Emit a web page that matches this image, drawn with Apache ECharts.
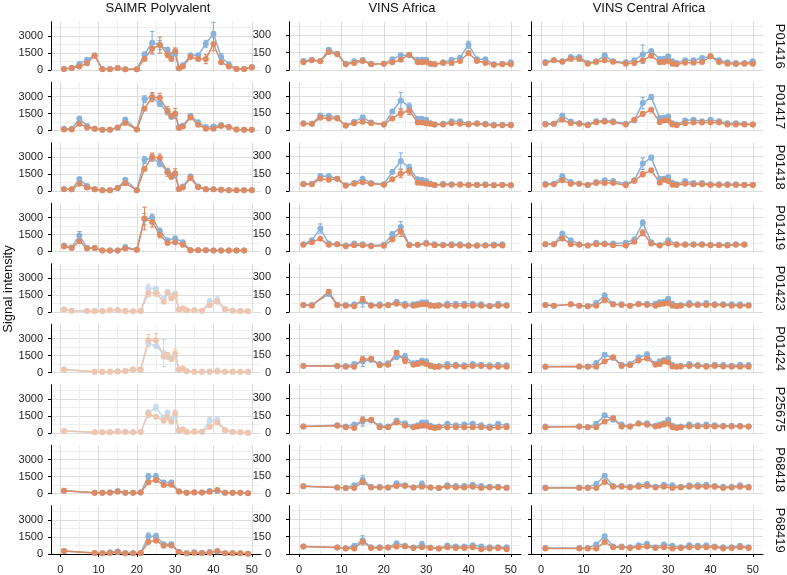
<!DOCTYPE html>
<html><head><meta charset="utf-8">
<script src="https://cdn.jsdelivr.net/npm/echarts@6/dist/echarts.min.js"></script>
<style>html,body{margin:0;padding:0;background:#fff}#c{width:787px;height:575px}</style>
</head><body><div id="c"></div>
<script>
// ---------- labels / ticks ----------
const columns = ['SAIMR Polyvalent', 'VINS Africa', 'VINS Central Africa'];
const proteins = ['P01416','P01417','P01418','P01419','P01423','P01424','P25675','P68418','P68419'];
const yAxisTitle = 'Signal intensity';
const xTickLabels = [0,10,20,30,40,50];
const xGridValues = [0,5,10,15,20,25,30,35,40,45,50];
const yTicksSAIMR = [0,1500,3000];
const yTicksVINS = [0,150,300];

// ---------- x positions per protein ----------
const x_P01416 = [1,3,5,7,9,11,13,15,17,20,22,24,26,28,29,30,31,32,34,36,38,40,42,44,46,48,50];
const x_P01417 = [1,3,5,7,9,11,13,15,17,20,22,24,26,28,29,30,31,32,34,36,38,40,42,44,46,48,50];
const x_P01418 = [1,3,5,7,9,11,13,15,17,20,22,24,26,28,29,30,31,32,34,36,38,40,42,44,46,48,50];
const x_P01419 = [1,3,5,7,9,11,13,15,17,20,22,24,26,28,30,32,34,36,38,40,42,44,46,48];
const x_P01423 = [1,3,7,9,11,13,15,17,19,21,23,25,27,28,29,30,31,32,33,35,37,39,41,43,45,47,49];
const x_P01424 = [1,9,11,13,15,17,19,21,23,25,27,28,29,30,31,32,33,35,37,39,41,43,45,47,49];
const x_P25675 = [1,9,11,13,15,17,19,21,23,25,27,28,29,30,31,32,33,35,37,39,41,43,45,47,49];
const x_P68418 = [1,9,11,13,15,17,19,21,23,25,27,29,31,33,35,37,39,41,43,45,47,49];
const x_P68419 = [1,9,11,13,15,17,19,21,23,25,27,29,31,33,35,37,39,41,43,45,47,49];

// ---------- SAIMR Polyvalent (blue = A, orange = B); errors as [x, halfwidth] ----------
const sa_P01416_A = [90,180,540,900,1290,90,90,180,60,60,1400,2400,2200,1800,1350,1440,150,420,1290,1290,2310,3200,1140,510,90,90,270];
const sa_P01416_B = [90,180,300,600,1250,60,60,180,60,60,960,1900,2200,1400,960,1650,150,300,1140,960,960,2300,690,300,90,90,210];
const sa_P01416_Aerr = [[24,1000],[26,400],[38,300],[40,1000],[42,300]];
const sa_P01416_Berr = [[24,400],[26,700],[28,300],[30,300],[38,400],[40,600]];
const sa_P01417_A = [150,150,1050,390,150,60,60,240,960,90,2760,2940,2370,1620,1200,1380,300,420,1290,720,300,360,480,300,90,60,60];
const sa_P01417_B = [90,90,600,270,150,60,60,270,660,90,1920,2940,2880,1740,1290,1500,210,360,1140,510,150,150,390,300,90,60,60];
const sa_P01417_Aerr = [[22,300],[24,300],[26,250],[28,200]];
const sa_P01417_Berr = [[24,400],[26,400],[28,350],[30,450]];
const sa_P01418_A = [180,150,1050,450,150,60,60,270,990,60,2730,2940,2400,1740,1380,1440,180,390,1290,390,150,150,120,60,60,60,60];
const sa_P01418_B = [150,150,630,300,150,60,60,270,690,60,1950,3000,2910,1650,1230,1560,180,300,1140,330,150,150,120,60,60,60,60];
const sa_P01418_Aerr = [[22,300],[24,300],[26,250]];
const sa_P01418_Berr = [[24,350],[26,350],[28,350],[30,400]];
const sa_P01419_A = [540,360,1410,330,300,90,90,90,390,150,2850,3000,1800,990,1170,810,120,120,120,90,90,90,90,90];
const sa_P01419_B = [450,300,900,270,300,90,90,90,270,150,2910,2610,1500,750,810,600,120,120,120,90,90,90,90,90];
const sa_P01419_Aerr = [[5,350],[22,500],[24,300],[26,250]];
const sa_P01419_Berr = [[22,1000],[24,450],[26,300]];
const sa_P01423_A = [210,120,90,90,90,150,150,90,60,90,2100,2040,1200,1800,1350,1650,210,300,150,150,120,900,1050,240,120,90,60];
const sa_P01423_B = [210,120,90,90,90,150,150,90,60,90,1650,1650,900,1650,1200,1500,210,300,150,150,120,600,900,240,120,90,60];
const sa_P01423_Aerr = [[23,350],[29,300],[39,300],[41,300]];
const sa_P01423_Berr = [[23,300],[25,250],[30,300]];
const sa_P01424_A = [270,60,60,90,120,150,270,270,2610,2310,1710,1350,1260,1470,270,360,120,60,60,90,180,60,60,60,60];
const sa_P01424_B = [270,60,60,60,90,120,270,270,2850,2850,1410,1560,1170,1650,270,360,120,60,60,60,90,60,60,60,60];
const sa_P01424_Aerr = [[23,300],[27,1200]];
const sa_P01424_Berr = [[23,500],[25,600],[30,400]];
const sa_P25675_A = [180,60,60,90,150,120,60,90,1740,2250,1350,1800,1140,1500,210,300,90,150,120,1080,1140,240,90,60,30];
const sa_P25675_B = [180,60,60,60,120,90,60,90,1680,1440,1080,1380,990,1710,210,300,90,120,120,540,930,240,90,60,30];
const sa_P25675_Aerr = [[23,300],[25,250],[39,300],[41,300]];
const sa_P25675_Berr = [[23,300],[30,300]];
const sa_P68418_A = [240,60,60,120,210,60,60,90,1500,1500,960,960,180,60,120,90,210,210,60,60,60,30];
const sa_P68418_B = [240,60,60,60,150,60,60,90,990,1200,750,780,180,60,90,90,150,300,60,60,60,30];
const sa_P68418_Aerr = [[23,250],[25,250],[27,150],[29,150]];
const sa_P68418_Berr = [[23,150],[25,200]];
const sa_P68419_A = [270,90,60,150,210,60,60,90,1560,1560,870,870,180,60,150,90,180,210,60,60,60,30];
const sa_P68419_B = [270,90,60,90,150,60,60,90,1050,1200,720,750,180,60,90,90,120,270,60,60,60,30];
const sa_P68419_Aerr = [[23,300],[25,250],[27,150],[29,150]];
const sa_P68419_Berr = [[23,150],[25,200]];

// ---------- VINS Africa ----------
const va_P01416_A = [78,89,78,176,141,55,75,84,55,55,92,127,127,89,89,89,55,49,66,89,107,219,92,92,49,55,66];
const va_P01416_B = [66,84,75,156,136,49,61,78,49,55,66,89,133,66,66,69,55,49,61,61,78,147,78,61,46,49,49];
const va_P01416_Aerr = [[7,10],[15,20],[40,30]];
const va_P01416_Berr = [[7,15],[26,12]];
const va_P01417_A = [63,58,130,127,110,43,75,115,69,52,164,260,208,101,101,92,63,52,58,81,81,58,63,58,49,49,49];
const va_P01417_B = [58,58,110,104,104,43,63,75,63,52,104,150,173,69,69,63,58,52,52,63,58,52,58,52,43,46,46];
const va_P01417_Aerr = [[22,15],[24,70],[26,30]];
const va_P01417_Berr = [[24,35],[26,35]];
const va_P01418_A = [63,63,130,127,107,49,69,107,69,58,165,260,199,101,98,87,63,49,63,58,58,55,55,58,49,55,49];
const va_P01418_B = [58,58,107,98,107,46,63,75,63,55,101,150,173,72,69,63,58,52,55,55,55,52,52,52,49,52,49];
const va_P01418_Aerr = [[22,15],[24,70],[26,30]];
const va_P01418_Berr = [[24,35],[26,35]];
const va_P01419_A = [63,98,199,69,63,52,69,63,52,58,150,213,58,58,75,63,58,63,63,55,55,55,61,63];
const va_P01419_B = [58,81,110,58,63,46,55,55,46,49,104,176,55,58,66,55,55,55,52,49,49,52,52,52];
const va_P01419_Aerr = [[5,40],[22,20],[24,45]];
const va_P01419_Berr = [[22,15],[24,45]];
const va_P01423_A = [61,61,155,61,61,66,89,61,66,61,89,72,66,72,84,84,61,55,61,72,72,72,72,66,55,72,61];
const va_P01423_B = [61,55,175,61,55,49,107,55,55,61,72,55,55,61,66,66,55,55,55,55,55,55,55,55,49,55,55];
const va_P01423_Aerr = [[15,45]];
const va_P01423_Berr = [[7,15],[15,25]];
const va_P01424_A = [59,56,56,74,97,109,74,79,132,138,79,85,103,97,62,50,56,74,68,62,74,68,62,68,62];
const va_P01424_B = [56,56,50,50,115,118,62,68,171,103,68,74,85,74,56,50,50,50,56,50,56,56,50,50,50];
const va_P01424_Aerr = [[15,45],[25,25]];
const va_P01424_Berr = [[17,15],[23,20],[25,25]];
const va_P25675_A = [56,68,56,74,100,109,62,56,109,85,56,68,91,91,62,50,56,79,68,74,79,68,56,79,62];
const va_P25675_B = [56,62,50,44,115,115,50,50,91,62,50,56,62,62,50,44,50,50,50,50,50,50,44,50,50];
const va_P25675_Aerr = [[15,40]];
const va_P25675_Berr = [[17,15]];
const va_P68418_A = [62,53,47,71,118,59,59,53,88,71,53,82,53,47,71,65,65,76,65,59,59,53];
const va_P68418_B = [62,53,47,47,100,53,53,53,65,65,53,59,53,47,59,53,53,59,47,53,53,47];
const va_P68418_Aerr = [[15,40],[29,25]];
const va_P68418_Berr = [[15,15]];
const va_P68419_A = [65,56,50,71,118,59,59,56,94,71,56,82,56,47,74,65,65,76,65,59,59,59];
const va_P68419_B = [65,56,47,47,106,53,53,56,65,65,53,59,53,47,59,53,53,59,41,47,53,41];
const va_P68419_Aerr = [[15,40],[29,25]];
const va_P68419_Berr = [[15,15]];

// ---------- VINS Central Africa ----------
const vca_P01416_A = [69,84,75,113,113,61,75,127,75,66,84,136,165,95,98,118,75,61,84,84,104,118,84,66,61,61,75];
const vca_P01416_B = [61,84,72,95,95,55,69,84,72,55,61,84,124,66,69,78,55,49,63,63,69,118,69,55,52,55,55];
const vca_P01416_Aerr = [[15,15],[24,80]];
const vca_P01416_Berr = [[24,15]];
const vca_P01417_A = [58,58,130,78,63,52,81,87,81,58,87,237,289,110,110,121,63,52,87,92,81,92,81,63,63,58,52];
const vca_P01417_B = [52,58,92,63,58,46,72,75,72,52,92,144,179,72,87,87,52,46,63,69,69,69,69,52,52,52,52];
const vca_P01417_Aerr = [[24,50],[26,20]];
const vca_P01417_Berr = [[24,20]];
const vca_P01418_A = [63,63,127,78,63,55,78,92,87,63,92,237,289,107,107,121,69,58,87,69,69,58,58,58,58,55,55];
const vca_P01418_B = [55,58,92,63,63,52,69,69,69,49,87,144,179,72,98,87,55,52,63,58,58,52,52,52,52,52,52];
const vca_P01418_Aerr = [[24,50],[26,20]];
const vca_P01418_Berr = [[24,20]];
const vca_P01419_A = [63,63,156,98,63,52,75,69,69,75,104,248,81,55,98,63,63,63,63,58,58,58,63,63];
const vca_P01419_B = [63,63,113,63,58,52,63,63,55,52,84,162,69,52,69,58,58,58,58,55,55,52,58,58];
const vca_P01419_Aerr = [[24,25]];
const vca_P01419_Berr = [[24,25]];
const vca_P01423_A = [61,55,66,55,49,78,144,66,66,55,72,72,72,84,89,115,72,55,61,78,66,78,66,66,66,66,61];
const vca_P01423_B = [61,55,66,55,49,55,101,66,61,55,66,61,55,66,72,78,55,49,55,61,61,61,61,61,55,55,55];
const vca_P01423_Aerr = [[15,15]];
const vca_P01423_Berr = [];
const vca_P01424_A = [53,53,53,82,153,126,68,74,132,153,74,97,109,124,68,53,59,74,65,59,68,65,59,68,65];
const vca_P01424_B = [50,53,50,50,97,132,56,62,103,121,68,74,97,88,53,50,53,56,56,50,56,53,50,50,50];
const vca_P01424_Aerr = [[15,15],[25,25]];
const vca_P01424_Berr = [[17,10]];
const vca_P25675_A = [56,56,50,79,153,115,74,56,85,85,62,74,85,115,62,50,56,74,68,74,68,62,62,62,56];
const vca_P25675_B = [50,56,50,50,100,129,56,56,79,71,56,62,74,79,50,44,50,56,56,56,56,56,56,56,56];
const vca_P25675_Aerr = [[15,15]];
const vca_P25675_Berr = [[17,10]];
const vca_P68418_A = [53,53,53,82,153,65,65,59,71,82,59,76,71,59,71,71,76,65,59,59,71,59];
const vca_P68418_B = [47,47,47,47,100,59,59,53,59,65,53,59,47,53,59,59,59,59,47,53,59,53];
const vca_P68418_Aerr = [[15,15]];
const vca_P68418_Berr = [];
const vca_P68419_A = [53,53,53,82,153,65,65,59,76,88,59,82,71,59,76,71,76,65,59,59,71,59];
const vca_P68419_B = [47,47,47,47,103,59,59,53,59,65,53,59,47,53,59,59,59,59,47,53,59,53];
const vca_P68419_Aerr = [[15,15]];
const vca_P68419_Berr = [];

// ---------- assemble tables ----------
const rowX = [x_P01416,x_P01417,x_P01418,x_P01419,x_P01423,x_P01424,x_P25675,x_P68418,x_P68419];
const panelTable = [
  [[sa_P01416_A,sa_P01416_B,sa_P01416_Aerr,sa_P01416_Berr],[va_P01416_A,va_P01416_B,va_P01416_Aerr,va_P01416_Berr],[vca_P01416_A,vca_P01416_B,vca_P01416_Aerr,vca_P01416_Berr]],
  [[sa_P01417_A,sa_P01417_B,sa_P01417_Aerr,sa_P01417_Berr],[va_P01417_A,va_P01417_B,va_P01417_Aerr,va_P01417_Berr],[vca_P01417_A,vca_P01417_B,vca_P01417_Aerr,vca_P01417_Berr]],
  [[sa_P01418_A,sa_P01418_B,sa_P01418_Aerr,sa_P01418_Berr],[va_P01418_A,va_P01418_B,va_P01418_Aerr,va_P01418_Berr],[vca_P01418_A,vca_P01418_B,vca_P01418_Aerr,vca_P01418_Berr]],
  [[sa_P01419_A,sa_P01419_B,sa_P01419_Aerr,sa_P01419_Berr],[va_P01419_A,va_P01419_B,va_P01419_Aerr,va_P01419_Berr],[vca_P01419_A,vca_P01419_B,vca_P01419_Aerr,vca_P01419_Berr]],
  [[sa_P01423_A,sa_P01423_B,sa_P01423_Aerr,sa_P01423_Berr],[va_P01423_A,va_P01423_B,va_P01423_Aerr,va_P01423_Berr],[vca_P01423_A,vca_P01423_B,vca_P01423_Aerr,vca_P01423_Berr]],
  [[sa_P01424_A,sa_P01424_B,sa_P01424_Aerr,sa_P01424_Berr],[va_P01424_A,va_P01424_B,va_P01424_Aerr,va_P01424_Berr],[vca_P01424_A,vca_P01424_B,vca_P01424_Aerr,vca_P01424_Berr]],
  [[sa_P25675_A,sa_P25675_B,sa_P25675_Aerr,sa_P25675_Berr],[va_P25675_A,va_P25675_B,va_P25675_Aerr,va_P25675_Berr],[vca_P25675_A,vca_P25675_B,vca_P25675_Aerr,vca_P25675_Berr]],
  [[sa_P68418_A,sa_P68418_B,sa_P68418_Aerr,sa_P68418_Berr],[va_P68418_A,va_P68418_B,va_P68418_Aerr,va_P68418_Berr],[vca_P68418_A,vca_P68418_B,vca_P68418_Aerr,vca_P68418_Berr]],
  [[sa_P68419_A,sa_P68419_B,sa_P68419_Aerr,sa_P68419_Berr],[va_P68419_A,va_P68419_B,va_P68419_Aerr,va_P68419_Berr],[vca_P68419_A,vca_P68419_B,vca_P68419_Aerr,vca_P68419_Berr]]
];

// ---------- styling / layout ----------
const FONT = '"Liberation Sans", Arial, Helvetica, sans-serif';
const BLUE = '#88b2da', ORANGE = '#df8a61';
const BLUE_FADED = '#c8dbee', ORANGE_FADED = '#f0c5ae';
const fadedPanels = [[4,0],[5,0],[6,0]];
const GRID_MAJOR = '#dcdcdc', GRID_MINOR = '#efefef';
const colLeft = [51, 289, 531];
const colWidth = [210, 232, 232];
const labelMargin = [8, 18, 8];
const rowTop0 = 21.7, rowStep = 60.5, panelH = 48.3;
const xMin = -2.4, xMax = 52.4;
const yMaxCol = [4260, 418, 418];
const yIntervalCol = [1500, 150, 150];
const yTickCol = [yTicksSAIMR, yTicksVINS, yTicksVINS];
const titleX = [158, 402, 649];
const plainNum = v => String(Math.round(v));

function errRender(color) {
  return function (params, api) {
    const x = api.value(0), y = api.value(1), e = api.value(2);
    const top = api.coord([x, y + e]);
    const bot = api.coord([x, y - e]);
    const w = 2.2;
    const st = { stroke: color, lineWidth: 1.1 };
    return { type: 'group', children: [
      { type: 'line', shape: { x1: top[0], y1: top[1], x2: bot[0], y2: bot[1] }, style: st },
      { type: 'line', shape: { x1: top[0] - w, y1: top[1], x2: top[0] + w, y2: top[1] }, style: st },
      { type: 'line', shape: { x1: bot[0] - w, y1: bot[1], x2: bot[0] + w, y2: bot[1] }, style: st }
    ]};
  };
}

const grids = [], xAxes = [], yAxes = [], series = [], graphics = [];
for (let r = 0; r < proteins.length; r++) {
  for (let c = 0; c < columns.length; c++) {
    const gi = grids.length;
    grids.push({ left: colLeft[c], top: rowTop0 + rowStep * r, width: colWidth[c], height: panelH, containLabel: false });
    xAxes.push({
      gridIndex: gi, type: 'value', min: xMin, max: xMax, position: 'top',
      axisLine: { show: false }, axisLabel: { show: false },
      axisTick: { show: false, customValues: xGridValues },
      splitLine: { show: true, lineStyle: { color: [GRID_MAJOR, GRID_MINOR], width: 1 } }
    });
    yAxes.push({
      gridIndex: gi, type: 'value', min: 0, max: yMaxCol[c], interval: yIntervalCol[c],
      axisLine: { show: true, onZero: false, lineStyle: { color: '#000', width: 1 } },
      axisTick: { show: true, length: 3, customValues: yTickCol[c], lineStyle: { color: '#000', width: 1 } },
      axisLabel: { show: c < 2, customValues: yTickCol[c], formatter: plainNum, fontSize: 11, color: '#222', fontFamily: FONT, margin: labelMargin[c] },
      splitLine: { show: true, lineStyle: { color: GRID_MAJOR, width: 1 } },
      minorTick: { show: false, splitNumber: 2 },
      minorSplitLine: { show: true, lineStyle: { color: GRID_MINOR, width: 1 } }
    });
    const xs = rowX[r];
    const [A, B, Aerr, Berr] = panelTable[r][c];
    const faded = fadedPanels.some(p => p[0] === r && p[1] === c);
    const cA = faded ? BLUE_FADED : BLUE, cB = faded ? ORANGE_FADED : ORANGE;
    const pts = ys => xs.map((x, i) => [x, ys[i]]);
    const errs = (ys, list) => list.map(([x, e]) => [x, ys[xs.indexOf(x)], e]);
    [[A, Aerr, cA, 'A'], [B, Berr, cB, 'B']].forEach(([ys, el, col, nm]) => {
      series.push({ type: 'custom', name: nm + '_err', xAxisIndex: gi, yAxisIndex: gi,
        renderItem: errRender(col), data: errs(ys, el), encode: { x: 0, y: 1 }, silent: true, animation: false });
      series.push({ type: 'line', name: nm, xAxisIndex: gi, yAxisIndex: gi, data: pts(ys),
        symbol: 'circle', symbolSize: 6, showSymbol: true, clip: false, silent: true,
        lineStyle: { color: col, width: 1.5 }, itemStyle: { color: col }, animation: false });
    });
  }
}
// bottom-row x axes with ticks/labels
for (let c = 0; c < columns.length; c++) {
  const gi = (proteins.length - 1) * columns.length + c;
  xAxes.push({
    gridIndex: gi, type: 'value', min: xMin, max: xMax, position: 'bottom',
    axisLine: { show: true, onZero: false, lineStyle: { color: '#000', width: 1 } },
    axisTick: { show: true, length: 3, customValues: xTickLabels, lineStyle: { color: '#000' } },
    axisLabel: { show: true, customValues: xTickLabels, formatter: plainNum, fontSize: 11, color: '#222', fontFamily: FONT, margin: 10 },
    splitLine: { show: false }
  });
}
// column titles
columns.forEach((t, c) => graphics.push({ type: 'text', x: titleX[c], y: 8, silent: true,
  style: { text: t, font: '13px ' + FONT, fill: '#111', align: 'center', verticalAlign: 'middle', textAlign: 'center', textVerticalAlign: 'middle' } }));
// strip labels
proteins.forEach((p, r) => graphics.push({ type: 'text', x: 779.5, y: rowTop0 + rowStep * r + 24.5, rotation: -Math.PI / 2, silent: true,
  style: { text: p, font: '13px ' + FONT, fill: '#111', align: 'center', verticalAlign: 'middle', textAlign: 'center', textVerticalAlign: 'middle' } }));
// y title
graphics.push({ type: 'text', x: 8, y: 289, rotation: Math.PI / 2, silent: true,
  style: { text: yAxisTitle, font: '13px ' + FONT, fill: '#111', align: 'center', verticalAlign: 'middle', textAlign: 'center', textVerticalAlign: 'middle' } });

const chart = echarts.init(document.getElementById('c'), null, { renderer: 'canvas' });
chart.setOption({ animation: false, backgroundColor: '#fff', grid: grids, xAxis: xAxes, yAxis: yAxes, series: series, graphic: graphics });
</script></body></html>
